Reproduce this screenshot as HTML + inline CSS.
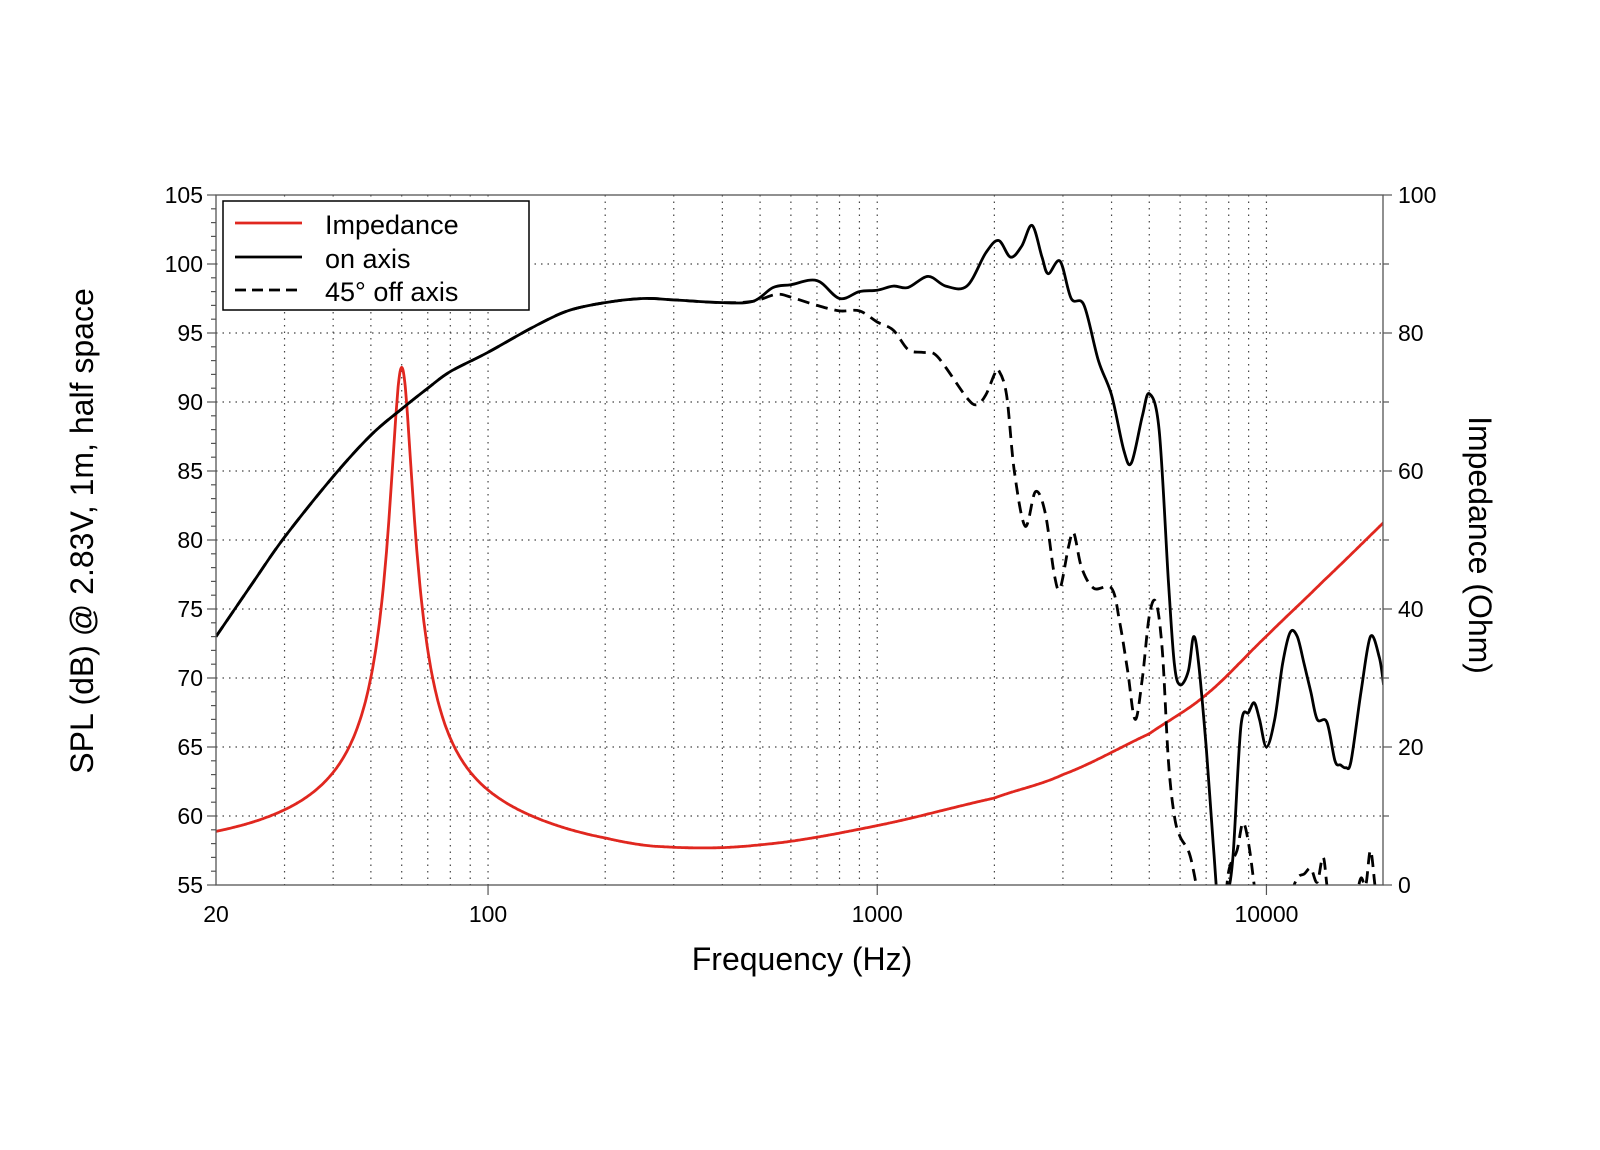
<!DOCTYPE html>
<html><head><meta charset="utf-8"><style>
html,body{margin:0;padding:0;background:#fff;}
svg{display:block;font-family:"Liberation Sans",Arial,sans-serif;}
</style></head><body>
<svg id="s" width="1600" height="1150" viewBox="0 0 1600 1150" xmlns="http://www.w3.org/2000/svg">
<defs><clipPath id="pc"><rect x="216" y="195" width="1167" height="690"/></clipPath></defs>
<g id="grid"></g>
<g id="curves" clip-path="url(#pc)"></g>
<rect x="216" y="195" width="1167" height="690" fill="none" stroke="#555" stroke-width="1.3"/>
<g id="ticks"></g>
<g font-size="23" fill="#000" id="labels"></g>
<text x="802" y="970" font-size="32" text-anchor="middle">Frequency (Hz)</text>
<text transform="translate(93,531) rotate(-90)" font-size="32" text-anchor="middle">SPL (dB) @ 2.83V, 1m, half space</text>
<text transform="translate(1469,545) rotate(90)" font-size="32" text-anchor="middle">Impedance (Ohm)</text>
<g>
<rect x="223" y="201" width="306" height="109" fill="#fff" stroke="#000" stroke-width="1.5"/>
<line x1="235" y1="223" x2="302" y2="223" stroke="#e0271f" stroke-width="2.8"/>
<line x1="235" y1="257" x2="302" y2="257" stroke="#000" stroke-width="2.8"/>
<line x1="235" y1="290" x2="302" y2="290" stroke="#000" stroke-width="2.8" stroke-dasharray="11,6"/>
<text x="325" y="234" font-size="27">Impedance</text>
<text x="325" y="268" font-size="27">on axis</text>
<text x="325" y="301" font-size="27">45° off axis</text>
</g>
</svg>
<script>
const NS="http://www.w3.org/2000/svg";
const X=f=>216+(Math.log10(f)-Math.log10(20))*389.2;
const Y=d=>195+(105-d)*13.8;
const YZ=z=>885-z*6.9;
function el(p,t,a,txt){const e=document.createElementNS(NS,t);for(const k in a)e.setAttribute(k,a[k]);if(txt!==undefined)e.textContent=txt;document.getElementById(p).appendChild(e);return e;}
for(let dec=10;dec<=10000;dec*=10)for(let m=1;m<=9;m++){const f=dec*m;if(f<=20||f>=20000)continue;
 el("grid","line",{x1:X(f),y1:195,x2:X(f),y2:885,stroke:"#444","stroke-width":1.2,"stroke-dasharray":"1.5,5"});}
for(let d=60;d<=100;d+=5)el("grid","line",{x1:216,y1:Y(d),x2:1383,y2:Y(d),stroke:"#444","stroke-width":1.2,"stroke-dasharray":"1.5,5"});
for(let d=55;d<=105;d++){const L=(d%5==0)?9:5;el("ticks","line",{x1:216-L,y1:Y(d),x2:216,y2:Y(d),stroke:"#555","stroke-width":1.2});}
for(let z=0;z<=100;z+=10){const L=(z%20==0)?9:6;el("ticks","line",{x1:1383,y1:YZ(z),x2:1383+L,y2:YZ(z),stroke:"#555","stroke-width":1.2});}
[100,1000,10000].forEach(f=>el("ticks","line",{x1:X(f),y1:885,x2:X(f),y2:895,stroke:"#555","stroke-width":1.2}));
for(let d=55;d<=105;d+=5)el("labels","text",{x:203,y:Y(d)+8,"text-anchor":"end"},d);
for(let z=0;z<=100;z+=20)el("labels","text",{x:1398,y:YZ(z)+8},z);
[[20,"20"],[100,"100"],[1000,"1000"],[10000,"10000"]].forEach(a=>el("labels","text",{x:X(a[0]),y:922,"text-anchor":"middle"},a[1]));
function cr(pts){let d="M"+pts[0][0].toFixed(1)+","+pts[0][1].toFixed(1);
 for(let i=0;i<pts.length-1;i++){const p0=pts[i-1]||pts[i],p1=pts[i],p2=pts[i+1],p3=pts[i+2]||p2;
  const c1=[p1[0]+(p2[0]-p0[0])/6,p1[1]+(p2[1]-p0[1])/6],c2=[p2[0]-(p3[0]-p1[0])/6,p2[1]-(p3[1]-p1[1])/6];
  d+="C"+c1[0].toFixed(1)+","+c1[1].toFixed(1)+" "+c2[0].toFixed(1)+","+c2[1].toFixed(1)+" "+p2[0].toFixed(1)+","+p2[1].toFixed(1);}
 return d;}
const on=[[20,73],[25,77],[30,80.2],[40,84.6],[50,87.6],[60,89.5],[70,91],[80,92.2],[100,93.6],[130,95.4],[160,96.6],[200,97.2],[250,97.5],[300,97.4],[400,97.2],[480,97.3],[540,98.3],[600,98.5],[700,98.8],[800,97.5],[900,98.0],[1000,98.1],[1100,98.4],[1200,98.3],[1350,99.1],[1500,98.4],[1700,98.4],[1900,100.8],[2050,101.7],[2200,100.5],[2350,101.3],[2500,102.8],[2650,100.5],[2750,99.3],[2950,100.2],[3150,97.5],[3400,97.0],[3700,93],[4000,90.5],[4300,86.5],[4500,85.6],[4800,89],[5000,90.6],[5300,88],[5600,77],[5800,71],[6000,69.5],[6300,70.5],[6500,73],[6700,71],[7000,65],[7300,58],[7600,52],[7900,54],[8200,57],[8600,66.5],[9000,67.5],[9300,68.2],[9600,67],[10000,65],[10500,67],[11000,71],[11500,73.3],[12000,73],[12500,71],[13000,69],[13500,67],[14300,66.8],[15000,64],[15500,63.7],[16000,63.5],[16500,64],[17500,69],[18500,73],[19500,71.5],[20000,69.5]];
const off=[[20,73],[25,77],[30,80.2],[40,84.6],[50,87.6],[60,89.5],[70,91],[80,92.2],[100,93.6],[130,95.4],[160,96.6],[200,97.2],[250,97.5],[300,97.4],[400,97.2],[480,97.3],[550,97.8],[600,97.6],[700,97.0],[800,96.6],[900,96.6],[1000,95.8],[1100,95.2],[1200,93.8],[1300,93.6],[1400,93.5],[1500,92.5],[1700,90.3],[1800,89.8],[1900,90.5],[2000,92.0],[2050,92.3],[2150,90.5],[2250,85],[2400,81],[2550,83.5],[2700,82],[2850,77.5],[2950,76.5],[3100,79.5],[3200,80.5],[3350,78],[3600,76.5],[4000,76.5],[4200,74],[4400,70.5],[4600,67],[4800,70],[5000,74.5],[5200,75.5],[5400,72],[5600,64],[5800,60],[6000,58.5],[6300,57.5],[6500,56],[6800,53],[7200,50],[7700,52],[8000,56],[8400,57.5],[8700,59.5],[9000,58],[9300,55],[9700,51],[11000,51],[11500,54],[12000,55.5],[12500,55.8],[13000,56.2],[13500,55.2],[14000,57],[14500,54],[16000,50],[17000,54],[17500,55.5],[18000,55],[18500,57.5],[19000,55],[19500,52],[20000,50]];
const base=[[20,4.0],[50,4.5],[100,4.4],[200,3.5],[280,3.3],[500,4.6],[1000,8.0],[2000,12.3],[3000,15.8],[5000,21.8],[7000,27.5],[10000,36.0],[14000,44],[20000,52.5],[28000,61]];
function interp(t,f){const lf=Math.log10(f);const n=t.length;
 for(let i=0;i<n-1;i++){const a=Math.log10(t[i][0]),b=Math.log10(t[i+1][0]);if(lf>=a&&lf<=b){const u=(lf-a)/(b-a);
  const y0=(t[i-1]||t[i])[1],y1=t[i][1],y2=t[i+1][1],y3=(t[i+2]||t[i+1])[1];
  return 0.5*((2*y1)+(-y0+y2)*u+(2*y0-5*y1+4*y2-y3)*u*u+(-y0+3*y1-3*y2+y3)*u*u*u);}}
 return t[n-1][1];}
const zp=[];for(let i=0;i<=500;i++){const f=20*Math.pow(1000,i/500);const r=f/60-60/f;const z=interp(base,f)+70.5/Math.sqrt(1+49*r*r);zp.push([X(f),YZ(z)]);}
el("curves","path",{d:cr(zp),fill:"none",stroke:"#e0271f","stroke-width":2.8});
el("curves","path",{d:cr(off.map(p=>[X(p[0]),Y(p[1])])),fill:"none",stroke:"#000","stroke-width":2.8,"stroke-dasharray":"12,7"});
el("curves","path",{d:cr(on.map(p=>[X(p[0]),Y(p[1])])),fill:"none",stroke:"#000","stroke-width":2.8});
</script>
</body></html>
